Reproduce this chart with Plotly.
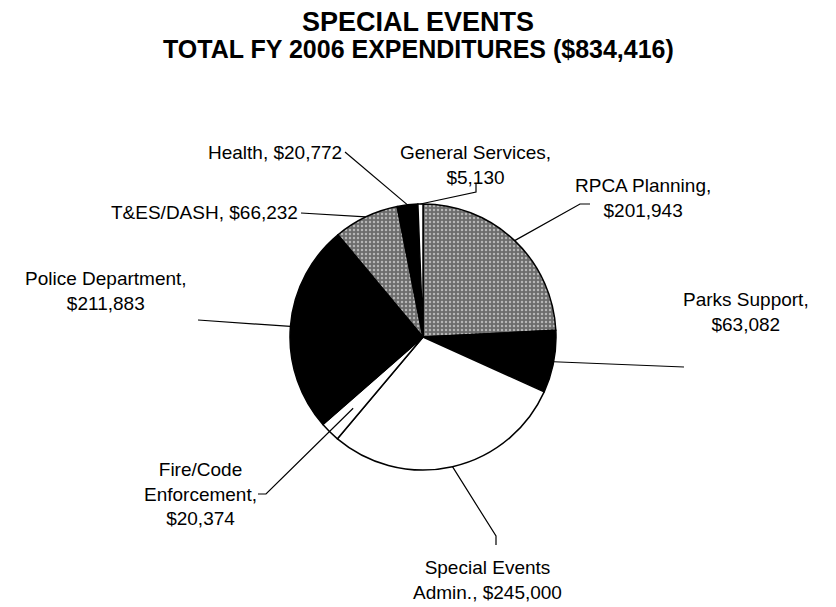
import math
import plotly.graph_objects as go

# ---- data (clockwise from 12 o'clock) ----
categories = ["RPCA Planning", "Parks Support", "Special Events Admin.",
              "Fire/Code Enforcement", "Police Department", "T&ES/DASH",
              "Health", "General Services"]
values = [201943, 63082, 245000, 20374, 211883, 66232, 20772, 5130]
label_templates = ["RPCA Planning,<br>{v}", "Parks Support,<br>{v}",
                   "Special Events<br>Admin., {v}", "Fire/Code<br>Enforcement,<br>{v}",
                   "Police Department,<br>{v}", "T&ES/DASH, {v}",
                   "Health, {v}", "General Services,<br>{v}"]
slice_colors = ["#6c6c6c", "black", "white", "white", "black", "#6c6c6c", "black", "white"]
slice_patterns = [".", "", "", "", "", ".", "", ""]
title_main = "SPECIAL EVENTS"
title_sub = "TOTAL FY 2006 EXPENDITURES (${:,})".format(sum(values))

# ---- layout geometry (window pixels; page body has an 8px margin) ----
OFF = 8
W, H = 836 - OFF, 607 - OFF
cx, cy, R = 423, 337, 133
FONT = "Liberation Sans, Arial, sans-serif"

def px(x, y):
    return (x - OFF) / W, 1 - (y - OFF) / H

# label placement: centre/anchor point, leader bend points, leader radius fraction
label_pos = [
    dict(x=643, y=198, xa="center", path=[(590, 204), (580, 204)], rf=1.0),
    dict(x=746, y=312, xa="center", path=[(684, 367)], rf=1.0),
    dict(x=487, y=580, xa="center", path=[(496, 545), (496, 536)], rf=1.0),
    dict(x=200, y=494, xa="center", path=[(258, 494), (266, 494)], rf=0.75),
    dict(x=106, y=291, xa="center", path=[(198, 320)], rf=1.0),
    dict(x=300, y=213, xa="right", path=[(301, 213)], rf=1.0),
    dict(x=344, y=152, xa="right", path=[(345, 152)], rf=1.0),
    dict(x=476, y=165, xa="center", path=[(476, 184), (476, 192)], rf=1.0),
]

total = sum(values)
dx0, dy1 = px(cx - R, cy - R)
dx1, dy0 = px(cx + R, cy + R)
fig = go.Figure(go.Pie(
    labels=categories, values=values, sort=False, direction="clockwise", rotation=0,
    textinfo="none", showlegend=False,
    marker=dict(colors=slice_colors, line=dict(color="black", width=1.5),
                pattern=dict(shape=slice_patterns, fgcolor="white", size=4,
                             solidity=0.3, fillmode="overlay")),
    domain=dict(x=[dx0, dx1], y=[dy0, dy1]),
))

annotations = []
shapes = []
cum = 0
for cat, v, tpl, lp in zip(categories, values, label_templates, label_pos):
    theta = math.radians(360.0 * (cum + v / 2) / total)
    cum += v
    ex = cx + lp["rf"] * R * math.sin(theta)
    ey = cy - lp["rf"] * R * math.cos(theta)
    pts = lp["path"] + [(ex, ey)]
    d = "M " + " L ".join("{:.5f},{:.5f}".format(*px(x, y)) for x, y in pts)
    shapes.append(dict(type="path", path=d, xref="paper", yref="paper",
                       line=dict(color="black", width=1.2)))
    ax, ay = px(lp["x"], lp["y"])
    annotations.append(dict(text=tpl.format(v="${:,}".format(v)), x=ax, y=ay,
                            xref="paper", yref="paper", xanchor=lp["xa"], yanchor="middle",
                            showarrow=False, align="center",
                            font=dict(family=FONT, size=19, color="black")))

tx, ty = px(418, 22)
annotations.append(dict(text="<b>" + title_main + "</b>", x=tx, y=ty, xref="paper", yref="paper",
                        xanchor="center", yanchor="middle", showarrow=False,
                        font=dict(family=FONT, size=27, color="black")))
tx, ty = px(418, 49)
annotations.append(dict(text="<b>" + title_sub + "</b>", x=tx, y=ty, xref="paper", yref="paper",
                        xanchor="center", yanchor="middle", showarrow=False,
                        font=dict(family=FONT, size=25, color="black")))

fig.update_layout(width=W, height=H, margin=dict(l=0, r=0, t=0, b=0),
                  paper_bgcolor="white", plot_bgcolor="white",
                  annotations=annotations, shapes=shapes)
fig.write_html("out.html")
